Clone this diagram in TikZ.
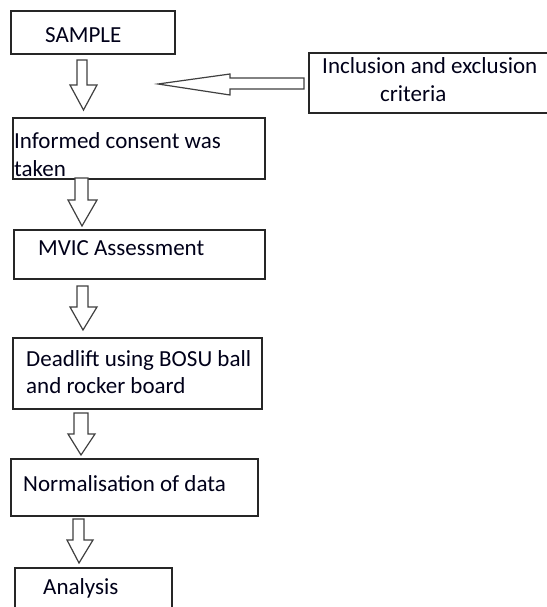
\documentclass[tikz,border=0pt]{standalone}
\usepackage{fontspec}
\setmainfont{Carlito}
\begin{document}
\begin{tikzpicture}[x=1pt,y=-1pt,
  box/.style={draw=black!85,line width=1.6pt,rectangle,inner sep=0pt,anchor=north west},
  txt/.style={inner sep=0pt,anchor=base west,font=\fontsize{23}{28}\selectfont,text=black!90!blue},
  blockarrow/.style={draw=black!75,line width=1.2pt,fill=white,line join=miter}]
\useasboundingbox (0,0) rectangle (546,607);
\fill[white] (0,0) rectangle (546,607);
% boxes
\node[box,minimum width=164pt,minimum height=43pt] (sample) at (10,10) {};
\node[box,minimum width=260pt,minimum height=60pt] (incl) at (308,52) {};
\node[box,minimum width=252pt,minimum height=61pt] (consent) at (12,117) {};
\node[box,minimum width=251pt,minimum height=49pt] (mvic) at (13,229) {};
\node[box,minimum width=249pt,minimum height=71pt] (dead) at (12,337) {};
\node[box,minimum width=247pt,minimum height=57pt] (norm) at (10,458) {};
\node[box,minimum width=157pt,minimum height=60pt] (anal) at (14,567) {};
% texts
\node[txt] (t1) at (45,43) {SAMPLE};
\node[txt] (t2a) at (322,74) {Inclusion and exclusion};
\node[txt] (t2b) at (380,102) {criteria};
\node[txt] (t3a) at (14,148) {Informed consent was};
\node[txt] (t3b) at (14,176) {taken};
\node[txt] (t4) at (38,255) {MVIC Assessment};
\node[txt] (t5a) at (26,366) {Deadlift using BOSU ball};
\node[txt] (t5b) at (26,393) {and rocker board};
\node[txt] (t6) at (23,491) {Normalisation of data};
\node[txt] (t7) at (43,594) {Analysis};
% block arrows
\draw[blockarrow] (77,60) -- (87,60) -- (87,85) -- (97,85) -- (83.5,110) -- (70,85) -- (77,85) -- cycle;
\draw[blockarrow] (75,178) -- (88,178) -- (88,200) -- (97,200) -- (82,226) -- (68,200) -- (75,200) -- cycle;
\draw[blockarrow] (77,286) -- (88,286) -- (88,307) -- (97,307) -- (83,330) -- (70,307) -- (77,307) -- cycle;
\draw[blockarrow] (74,413) -- (88,413) -- (88,434) -- (95,434) -- (81,455) -- (68,434) -- (74,434) -- cycle;
\draw[blockarrow] (73,519) -- (84,519) -- (84,540) -- (93,540) -- (79,563) -- (67,540) -- (73,540) -- cycle;
\draw[blockarrow] (304,78) -- (304,89) -- (230,89) -- (230,95) -- (158,84) -- (230,74) -- (230,78) -- cycle;
\end{tikzpicture}
\end{document}
